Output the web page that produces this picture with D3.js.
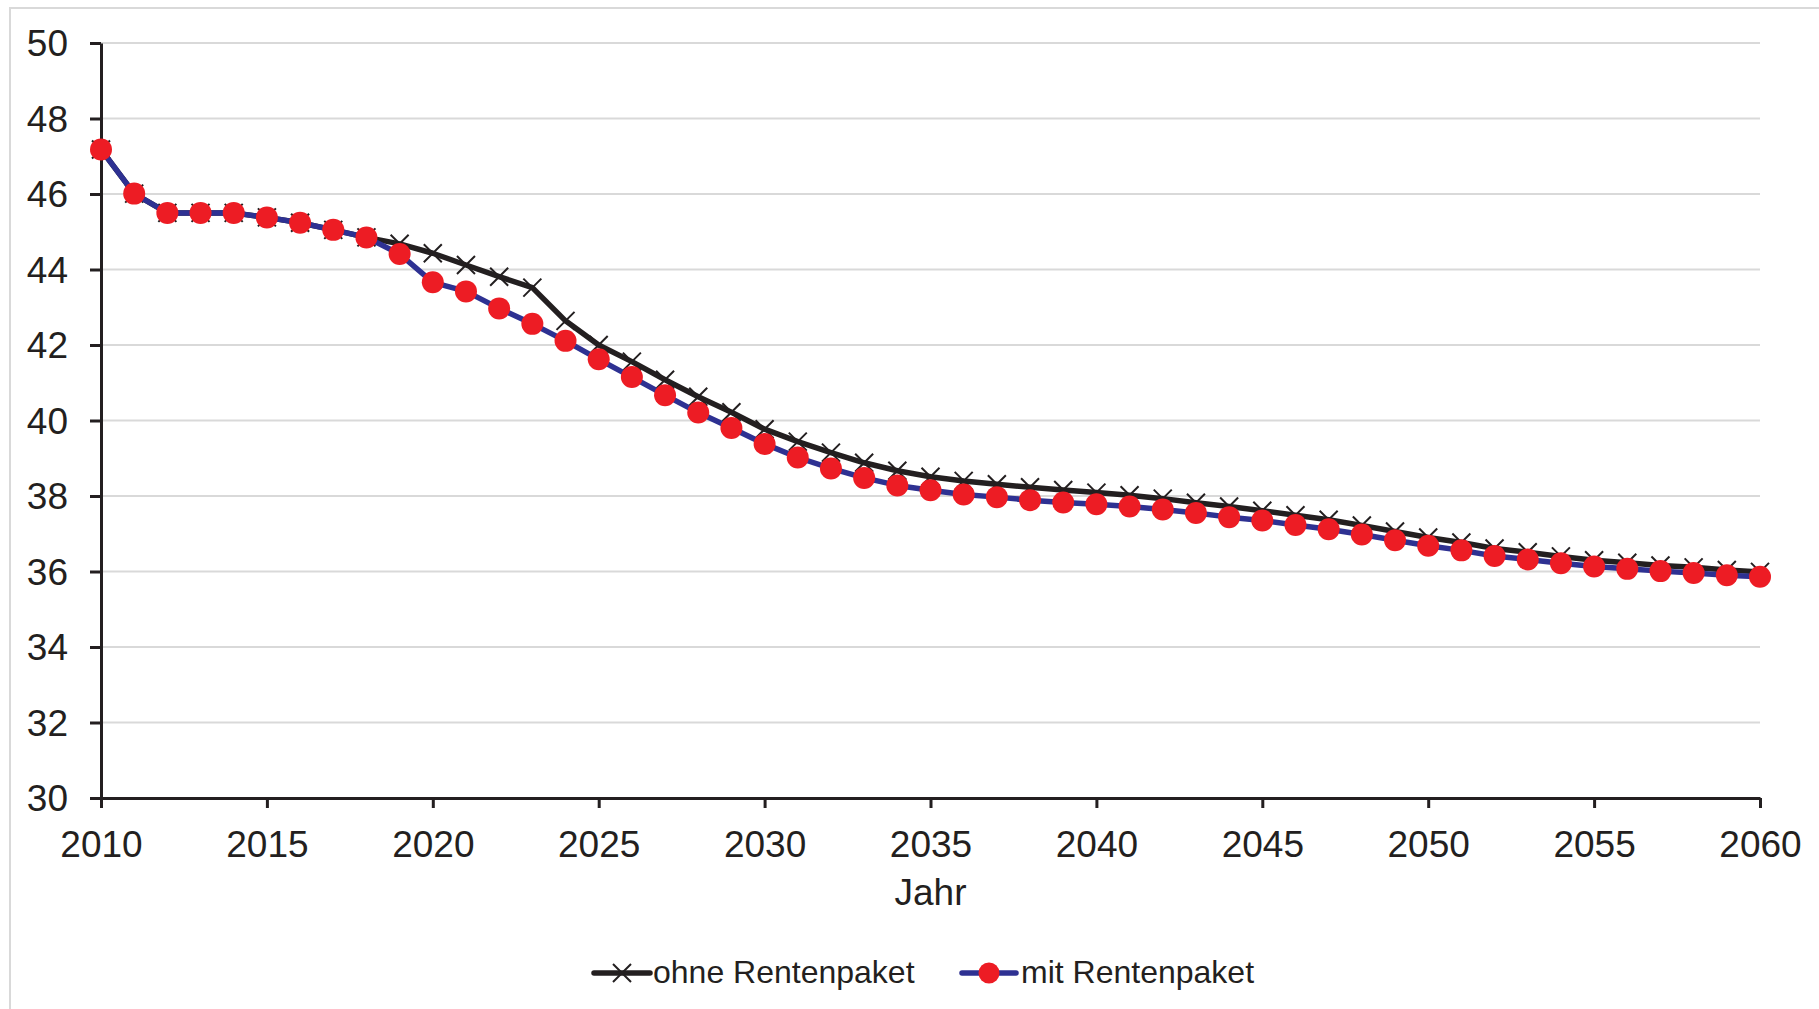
<!DOCTYPE html>
<html>
<head>
<meta charset="utf-8">
<script src="https://cdn.jsdelivr.net/npm/d3@7"></script>
<style>
  html, body { margin: 0; padding: 0; background: #fff; }
  svg { display: block; }
  text { font-family: "Liberation Sans", Arial, sans-serif; fill: #231f20; }
</style>
</head>
<body>
<svg id="chart" width="1819" height="1009"></svg>
<script>
// Jahre
const years = [2010, 2011, 2012, 2013, 2014, 2015, 2016, 2017, 2018, 2019,
               2020, 2021, 2022, 2023, 2024, 2025, 2026, 2027, 2028, 2029,
               2030, 2031, 2032, 2033, 2034, 2035, 2036, 2037, 2038, 2039,
               2040, 2041, 2042, 2043, 2044, 2045, 2046, 2047, 2048, 2049,
               2050, 2051, 2052, 2053, 2054, 2055, 2056, 2057, 2058, 2059, 2060];

// Sicherungsniveau ohne Rentenpaket
const ohneRentenpaket = [47.18, 46.01, 45.50, 45.50, 45.50, 45.38, 45.24, 45.05, 44.85, 44.68,
                         44.43, 44.12, 43.81, 43.52, 42.64, 42.00, 41.56, 41.08, 40.63, 40.22,
                         39.77, 39.44, 39.15, 38.88, 38.67, 38.51, 38.40, 38.31, 38.23, 38.16,
                         38.09, 38.02, 37.93, 37.82, 37.72, 37.61, 37.49, 37.37, 37.22, 37.06,
                         36.90, 36.77, 36.61, 36.51, 36.40, 36.30, 36.23, 36.16, 36.11, 36.04, 35.99];

// Sicherungsniveau mit Rentenpaket
const mitRentenpaket = [47.18, 46.01, 45.50, 45.50, 45.50, 45.38, 45.24, 45.05, 44.85, 44.41,
                        43.66, 43.42, 42.97, 42.56, 42.11, 41.62, 41.15, 40.67, 40.21, 39.80,
                        39.38, 39.02, 38.73, 38.48, 38.28, 38.15, 38.04, 37.97, 37.89, 37.83,
                        37.78, 37.72, 37.64, 37.55, 37.44, 37.35, 37.23, 37.12, 36.98, 36.83,
                        36.68, 36.56, 36.41, 36.32, 36.22, 36.13, 36.07, 36.01, 35.96, 35.90, 35.86];

const xTicks = [2010, 2015, 2020, 2025, 2030, 2035, 2040, 2045, 2050, 2055, 2060];
const yTicks = [30, 32, 34, 36, 38, 40, 42, 44, 46, 48, 50];
const seriesNames = ["ohne Rentenpaket", "mit Rentenpaket"];
const xTitle = "Jahr";

const ink = "#231f20", blue = "#2e3192", red = "#ed1c24", grid = "#d9d9d9";

const svg = d3.select("#chart");
const plotLeft = 101, plotRight = 1760, plotTop = 43, plotBottom = 798;

const x = d3.scaleLinear().domain([2010, 2060]).range([plotLeft, plotRight]);
const y = d3.scaleLinear().domain([30, 50]).range([plotBottom, plotTop]);

// äußerer Rahmen
svg.append("rect")
  .attr("x", 10).attr("y", 8)
  .attr("width", 1900).attr("height", 1100)
  .attr("fill", "none").attr("stroke", grid).attr("stroke-width", 2);

// horizontale Gitterlinien
svg.append("g").selectAll("line")
  .data(yTicks.filter(d => d > 30))
  .join("line")
  .attr("x1", plotLeft).attr("x2", plotRight)
  .attr("y1", d => y(d)).attr("y2", d => y(d))
  .attr("stroke", grid).attr("stroke-width", 2);

// y-Achse
const yAxis = svg.append("g")
  .attr("transform", `translate(${plotLeft},0)`)
  .call(d3.axisLeft(y).tickValues(yTicks).tickSize(11).tickPadding(22).tickSizeOuter(0));
yAxis.select(".domain").attr("stroke", ink).attr("stroke-width", 3);
yAxis.selectAll(".tick line").attr("stroke", ink).attr("stroke-width", 3);
yAxis.selectAll(".tick text")
  .attr("font-size", 37).attr("font-family", "Liberation Sans, Arial, sans-serif")
  .attr("fill", ink).attr("dy", "0.35em");

// x-Achse
const xAxis = svg.append("g")
  .attr("transform", `translate(0,${plotBottom})`)
  .call(d3.axisBottom(x).tickValues(xTicks).tickFormat(d3.format("d")).tickSize(10).tickPadding(23).tickSizeOuter(0));
xAxis.select(".domain").attr("stroke", ink).attr("stroke-width", 3);
xAxis.selectAll(".tick line").attr("stroke", ink).attr("stroke-width", 3);
xAxis.selectAll(".tick text")
  .attr("font-size", 37).attr("font-family", "Liberation Sans, Arial, sans-serif")
  .attr("fill", ink);

svg.append("text")
  .attr("x", (plotLeft + plotRight) / 2).attr("y", 905)
  .attr("text-anchor", "middle").attr("font-size", 37)
  .text(xTitle);

const line = d3.line().x(d => x(d[0])).y(d => y(d[1]));
const ohne = years.map((yr, i) => [yr, ohneRentenpaket[i]]);
const mit = years.map((yr, i) => [yr, mitRentenpaket[i]]);

function crossPath(s) {
  return `M${-s},${-s}L${s},${s}M${-s},${s}L${s},${-s}`;
}

// Reihe ohne Rentenpaket
svg.append("path").datum(ohne)
  .attr("d", line).attr("fill", "none")
  .attr("stroke", ink).attr("stroke-width", 5.5).attr("stroke-linejoin", "round");
svg.append("g").selectAll("path")
  .data(ohne).join("path")
  .attr("transform", d => `translate(${x(d[0])},${y(d[1])})`)
  .attr("d", crossPath(9))
  .attr("stroke", ink).attr("stroke-width", 2).attr("fill", "none");

// Reihe mit Rentenpaket
svg.append("path").datum(mit)
  .attr("d", line).attr("fill", "none")
  .attr("stroke", blue).attr("stroke-width", 5.5).attr("stroke-linejoin", "round");
svg.append("g").selectAll("circle")
  .data(mit).join("circle")
  .attr("cx", d => x(d[0])).attr("cy", d => y(d[1]))
  .attr("r", 11).attr("fill", red);

// Legende
const legend = svg.append("g");
const ly = 973;
legend.append("line").attr("x1", 594).attr("x2", 650).attr("y1", ly).attr("y2", ly)
  .attr("stroke", ink).attr("stroke-width", 5.5).attr("stroke-linecap", "round");
legend.append("path").attr("transform", `translate(622,${ly})`).attr("d", crossPath(9))
  .attr("stroke", ink).attr("stroke-width", 2);
legend.append("text").attr("x", 653).attr("y", 983).attr("font-size", 32).text(seriesNames[0]);

legend.append("line").attr("x1", 962).attr("x2", 1016).attr("y1", ly).attr("y2", ly)
  .attr("stroke", blue).attr("stroke-width", 5.5).attr("stroke-linecap", "round");
legend.append("circle").attr("cx", 989).attr("cy", ly).attr("r", 10.5).attr("fill", red);
legend.append("text").attr("x", 1021).attr("y", 983).attr("font-size", 32).text(seriesNames[1]);
</script>
</body>
</html>
